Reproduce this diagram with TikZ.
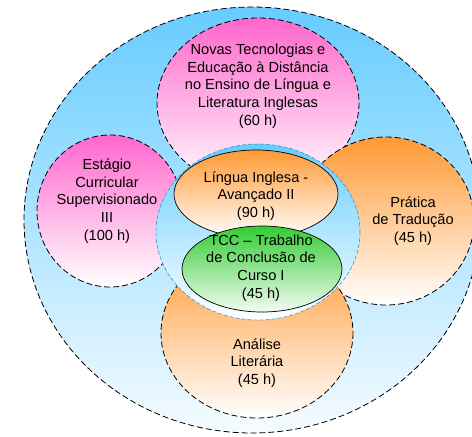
\documentclass[tikz,border=0pt]{standalone}
\usepackage{fontspec}
\setmainfont{Liberation Sans}
\usepackage{tikz}
\usetikzlibrary{
    calc,
    shapes.geometric
}
\definecolor{skyblue}{HTML}{66CCFF}
\definecolor{hotpink}{HTML}{FF66CC}
\definecolor{tangerine}{HTML}{FF9933}
\definecolor{leafgreen}{HTML}{33CC33}
\definecolor{ringblue}{HTML}{3399CC}
\tikzset{
    bubble/.style={%
        draw=black, line width=0.8pt, dash pattern=on 6pt off 3pt
    },
    pinkbubble/.style={bubble, top color=hotpink, bottom color=white},
    orangebubble/.style={bubble, top color=tangerine, bottom color=white},
    course/.style={align=center, font=\fontsize{14.6}{17.7}\selectfont, inner sep=0pt}
}

\begin{document}
\begin{tikzpicture}[x=1pt, y=-1pt]
        \useasboundingbox (0,0) rectangle (472,437);

        % outer field
        \draw[bubble, top color=skyblue, bottom color=skyblue!6] (252,220) ellipse [x radius=228, y radius=213];

        % surrounding courses
        \draw[pinkbubble] (258,103) ellipse [x radius=101, y radius=85];
        \draw[pinkbubble] (110,211) ellipse [x radius=73, y radius=76];
        \draw[orangebubble] (386,221) ellipse [x radius=88, y radius=84];
        \draw[orangebubble] (257,333) ellipse [x radius=96, y radius=85];

        % core
        \draw[draw=ringblue, line width=0.6pt, dash pattern=on 4pt off 2pt,
            top color=skyblue, bottom color=white] (258,232) ellipse [x radius=102, y radius=88];
        \draw[line width=0.7pt, top color=tangerine, bottom color=white] (256,194) ellipse [x radius=82, y radius=44];
        \draw[line width=0.7pt, top color=leafgreen, bottom color=leafgreen!6] (262,269) ellipse [x radius=80, y radius=43];

        \draw (258,86) node[course](novas){Novas Tecnologias e\\Educação à Distância\\no Ensino de Língua e\\Literatura Inglesas\\(60 h)};
        \draw (107,201) node[course](estagio){Estágio\\Curricular\\Supervisionado\\III\\(100 h)};
        \draw (413,221) node[course](pratica){Prática\\de Tradução\\(45 h)};
        \draw (257,363) node[course](analise){Análise\\Literária\\(45 h)};
        \draw (256,196) node[course](lingua){Língua Inglesa -\\Avançado II\\(90 h)};
        \draw (261,268) node[course](tcc){TCC – Trabalho\\de Conclusão de\\Curso I\\(45 h)};
    \end{tikzpicture}
\end{document}
